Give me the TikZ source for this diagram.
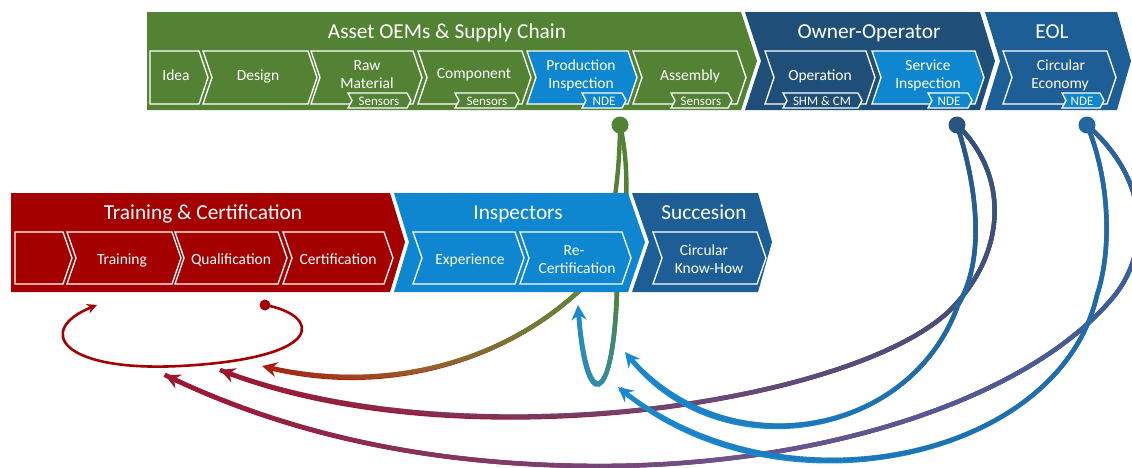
\documentclass[tikz,border=0pt]{standalone}
\usepackage{fontspec}
\setmainfont{Carlito}
\usetikzlibrary{arrows.meta,decorations.markings}

\definecolor{cGreen}{HTML}{548235}
\definecolor{cRed}{HTML}{A50000}
\definecolor{cLBlue}{HTML}{0E86D0}
\definecolor{cDBlue}{HTML}{1F4E79}
\definecolor{cMBlue}{HTML}{1D5E97}
\definecolor{gOlive}{HTML}{5E8A3A}
\definecolor{gBrown}{HTML}{96602A}
\definecolor{gRedO}{HTML}{A8200F}
\definecolor{gBlueA}{HTML}{2B5580}
\definecolor{gPurple}{HTML}{6A4A78}
\definecolor{gCrimson}{HTML}{A0142C}
\definecolor{gBlueMid}{HTML}{1F70B0}
\definecolor{gArrowBlue}{HTML}{1A8AD0}
\definecolor{gBlueC}{HTML}{2466A0}
\definecolor{gPurpleC}{HTML}{6A5590}
\definecolor{gTeal}{HTML}{3A8C9C}

\newcommand{\chevshape}[7]{\path[#1] (#2,#4) -- (#3,#4) -- ({#3+#6},{(#4+#5)/2}) -- (#3,#5) -- (#2,#5) -- ({#2+#7},{(#4+#5)/2}) -- cycle;}

\tikzset{
 grad/.style n args={4}{
  postaction={decorate},
  decoration={markings,
   mark=between positions 0 and -11pt step 0.8pt with {%
     \pgfmathsetmacro\gp{\pgfkeysvalueof{/pgf/decoration/mark info/distance from start}/\pgfdecoratedpathlength*100}%
     \ifdim\gp pt<50pt
       \pgfmathsetmacro\gq{2*\gp}%
       \colorlet{gradc}{#2!\gq!#1}%
     \else
       \pgfmathsetmacro\gq{2*\gp-100}%
       \colorlet{gradc}{#3!\gq!#2}%
     \fi
     \draw[-, line cap=butt, draw=gradc, line width=#4] (-0.6pt,0pt) -- (0.6pt,0pt);
   }}}
}

\begin{document}
\begin{tikzpicture}[x=1pt,y=-1pt,
  ttl/.style={text=white,font=\fontsize{21.3}{25}\selectfont,inner sep=0pt,anchor=base},
  btx/.style={text=white,font=\fontsize{15.5}{18.5}\selectfont,inner sep=0pt,anchor=base},
  tgx/.style={text=white,font=\fontsize{13}{14}\selectfont,inner sep=0pt,anchor=base},
  boxl/.style={draw=white,line width=1.3pt,line join=miter},
  conn/.style={line width=4.4pt,line cap=round},
  bigarr/.style={-{Stealth[length=15pt,width=15pt,inset=5pt]}},
  dotn/.style={circle,inner sep=0pt,minimum size=17pt},
]
\useasboundingbox (0,0) rectangle (1132,467);
\fill[white] (0,0) rectangle (1132,467);

% ---------- named points ----------
\coordinate (dP) at (620,125);
\coordinate (dS) at (957,125);
\coordinate (dE) at (1087,125);
\coordinate (dQ) at (265,305);
\coordinate (hG1) at (580,290);
\coordinate (hG2) at (617,290);
\coordinate (tLoop) at (97,305);
\coordinate (kL) at (180,366);
\coordinate (tG) at (262,366);
\coordinate (tU) at (578,305);
\coordinate (tA) at (220,370);
\coordinate (tB) at (625,352);
\coordinate (tC) at (165,375);
\coordinate (tD) at (618,387);
\coordinate (kA) at (955,305);
\coordinate (kB) at (958,305);
\coordinate (kC) at (1115,295);
\coordinate (kC2) at (600,466);
\coordinate (kD) at (1097,295);

% ---------- connectors ----------
\draw[conn,cGreen] (dP) .. controls (619,220) and (600,265) .. (hG1);
\draw[conn,cGreen] (dP) .. controls (632,175) and (625,240) .. (hG2);
\draw[conn,gRedO,bigarr,grad={gOlive}{gBrown}{gRedO}{4.4pt}] (hG1) .. controls (500,365) and (380,395) .. (tG);
\draw[conn,gArrowBlue,bigarr,grad={cGreen}{gTeal}{gArrowBlue}{4.4pt}] (hG2) .. controls (613,412) and (585,412) .. (tU);

\draw[conn,gCrimson,bigarr,grad={gBlueA}{gPurple}{gCrimson}{4.4pt}] (dS) .. controls (1005,170) and (1010,245) .. (kA) .. controls (870,400) and (470,465) .. (tA);
\draw[conn,gCrimson,bigarr,grad={gBlueC}{gPurpleC}{gCrimson}{4.4pt}] (dE) .. controls (1150,180) and (1150,250) .. (kC) .. controls (1030,400) and (820,466) .. (kC2) .. controls (420,466) and (280,430) .. (tC);
\draw[conn,gArrowBlue,bigarr,grad={gBlueA}{gBlueMid}{gArrowBlue}{4.4pt}] (dS) .. controls (978,190) and (985,260) .. (kB) .. controls (910,440) and (720,470) .. (tB);
\draw[conn,gArrowBlue,bigarr,grad={gBlueC}{gBlueMid}{gArrowBlue}{4.4pt}] (dE) .. controls (1110,180) and (1112,250) .. (kD) .. controls (1060,460) and (780,520) .. (tD);

\draw[cRed,line width=2.6pt,-{Stealth[length=10pt,width=10pt,inset=3.5pt]}] (dQ) .. controls (320,315) and (330,358) .. (kL) .. controls (60,372) and (35,330) .. (tLoop);

% ---------- top row blocks ----------
\fill[cGreen] (147,12) -- (741,12) -- (757,61) -- (741,110) -- (147,110) -- cycle;
\fill[cDBlue] (745,12) -- (980,12) -- (995,61) -- (980,110) -- (745,110) -- (761,61) -- cycle;
\fill[cMBlue] (985,12) -- (1117,12) -- (1131,61) -- (1117,110) -- (985,110) -- (1000,61) -- cycle;

\chevshape{boxl,fill=cGreen}{150}{199}{51}{104}{9}{0}
\chevshape{boxl,fill=cGreen}{203}{308}{51}{104}{9}{9}
\chevshape{boxl,fill=cGreen}{311}{413}{51}{104}{9}{9}
\chevshape{boxl,fill=cGreen}{418}{522}{51}{104}{9}{9}
\chevshape{boxl,fill=cLBlue}{527}{628}{51}{104}{9}{9}
\chevshape{boxl,fill=cGreen}{633}{737}{51}{104}{9}{9}
\chevshape{boxl,fill=cDBlue}{765}{866}{51}{104}{9}{9}
\chevshape{boxl,fill=cLBlue}{872}{975}{51}{104}{9}{9}
\chevshape{boxl,fill=cMBlue}{1003}{1107}{51}{104}{9}{9}

% tags
\chevshape{boxl,fill=cGreen}{348}{407}{93}{108}{4}{4}
\chevshape{boxl,fill=cGreen}{455}{515}{93}{108}{4}{4}
\chevshape{boxl,fill=cLBlue}{582}{622}{93}{108}{4}{4}
\chevshape{boxl,fill=cGreen}{671}{728}{93}{108}{4}{4}
\chevshape{boxl,fill=cDBlue}{783}{858}{93}{108}{4}{4}
\chevshape{boxl,fill=cLBlue}{928}{968}{93}{108}{4}{4}
\chevshape{boxl,fill=cLBlue}{1062}{1100}{93}{108}{4}{4}

% ---------- second row blocks ----------
\fill[cRed] (11,193) -- (390,193) -- (405,242) -- (390,292) -- (11,292) -- cycle;
\fill[cLBlue] (394,193) -- (628,193) -- (645,242) -- (628,292) -- (394,292) -- (409,242) -- cycle;
\fill[cMBlue] (632,193) -- (758,193) -- (772,242) -- (758,292) -- (632,292) -- (649,242) -- cycle;

\chevshape{boxl,fill=cRed}{15}{63}{232}{284}{9}{0}
\chevshape{boxl,fill=cRed}{67}{172}{232}{284}{9}{9}
\chevshape{boxl,fill=cRed}{175}{278}{232}{284}{9}{9}
\chevshape{boxl,fill=cRed}{283}{384}{232}{284}{9}{9}
\chevshape{boxl,fill=cLBlue}{413}{515}{232}{284}{9}{9}
\chevshape{boxl,fill=cLBlue}{520}{622}{232}{284}{9}{9}
\chevshape{boxl,fill=cMBlue}{653}{757}{232}{284}{9}{9}

% ---------- texts ----------
\node[ttl] (tAsset) at (447,38) {Asset OEMs \& Supply Chain};
\node[ttl] (tOwner) at (869,38) {Owner-Operator};
\node[ttl] (tEOL) at (1052,38) {EOL};
\node[ttl] (tTrain) at (203,219) {Training \& Certification};
\node[ttl] (tInsp) at (518,219) {Inspectors};
\node[ttl] (tSucc) at (704,219) {Succesion};

\node[btx] (xIdea) at (176,80) {Idea};
\node[btx] (xDesign) at (258,80) {Design};
\node[btx] (xRawA) at (367,70) {Raw};
\node[btx] (xRawB) at (367,88) {Material};
\node[btx] (xComp) at (474,78) {Component};
\node[btx] (xProdA) at (581,70) {Production};
\node[btx] (xProdB) at (581,88) {Inspection};
\node[btx] (xAssem) at (690,80) {Assembly};
\node[btx] (xOper) at (820,80) {Operation};
\node[btx] (xServA) at (928,70) {Service};
\node[btx] (xServB) at (928,88) {Inspection};
\node[btx] (xCircA) at (1061,70) {Circular};
\node[btx] (xCircB) at (1060,88) {Economy};

\node[tgx] (gRaw) at (379,105.5) {Sensors};
\node[tgx] (gComp) at (487,105.5) {Sensors};
\node[tgx] (gProd) at (604,105.5) {NDE};
\node[tgx] (gAssem) at (701,105.5) {Sensors};
\node[tgx] (gOper) at (822,105.5) {SHM \& CM};
\node[tgx] (gServ) at (949,105.5) {NDE};
\node[tgx] (gEOL) at (1082,105.5) {NDE};

\node[btx] (xTrain) at (122,264) {Training};
\node[btx] (xQual) at (231,264) {Qualification};
\node[btx] (xCert) at (338,264) {Certification};
\node[btx] (xExp) at (470,264) {Experience};
\node[btx] (xReA) at (574,255) {Re-};
\node[btx] (xReB) at (577,273) {Certification};
\node[btx] (xKnowA) at (704,255) {Circular};
\node[btx] (xKnowB) at (709,273) {Know-How};

% ---------- dots ----------
\node[dotn,fill=cGreen] (dotP) at (dP) {};
\node[dotn,fill=gBlueA] (dotS) at (dS) {};
\node[dotn,fill=gBlueC] (dotE) at (dE) {};
\node[circle,inner sep=0pt,minimum size=11pt,fill=cRed] (dotQ) at (dQ) {};
\end{tikzpicture}
\end{document}
